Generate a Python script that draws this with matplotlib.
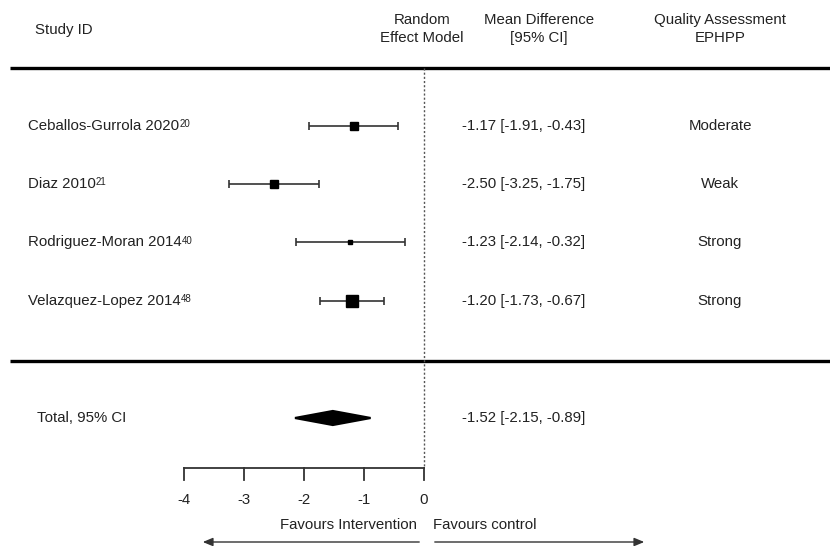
import numpy as np
import matplotlib
matplotlib.use("Agg")
import matplotlib.pyplot as plt
from matplotlib.patches import Polygon

plt.rcParams['font.family'] = ['Liberation Sans', 'DejaVu Sans']

# study data
studies = ["Ceballos-Gurrola 2020", "Diaz 2010", "Rodriguez-Moran 2014", "Velazquez-Lopez 2014"]
refs = ["20", "21", "40", "48"]
md = [-1.17, -2.50, -1.23, -1.20]
ci_lo = [-1.91, -3.25, -2.14, -1.73]
ci_hi = [-0.43, -1.75, -0.32, -0.67]
weights = [24, 27, 4.5, 45]          # relative box area (estimated)
quality = ["Moderate", "Weak", "Strong", "Strong"]

total_md = -1.52
total_lo = -2.15
total_hi = -0.89

ticks = [-4, -3, -2, -1, 0]

# figure is laid out in pixels: x = 424 + 60*value, y rows 58.2 px apart
W, H = 830, 546
X0, XS = 424, 60.0
Y0, YS = 126, 58.2


def xpx(p):
    return (p - X0) / XS


def ypx(p):
    return (p - Y0) / YS


fig = plt.figure(figsize=(W / 100, H / 100), dpi=100)
ax = fig.add_axes([0, 0, 1, 1])
ax.set_xlim(xpx(0), xpx(W))
ax.set_ylim(ypx(H), ypx(0))
ax.axis('off')

txt = '#222222'
fs = 10.8

# header
ax.text(xpx(35), ypx(30), "Study ID", fontsize=fs, color=txt, va='center', ha='left')
ax.text(xpx(422), ypx(29), "Random\nEffect Model", fontsize=fs, color=txt,
        va='center', ha='center', linespacing=1.45)
ax.text(xpx(539), ypx(29), "Mean Difference\n[95% CI]", fontsize=fs, color=txt,
        va='center', ha='center', linespacing=1.45)
ax.text(xpx(720), ypx(29), "Quality Assessment\nEPHPP", fontsize=fs, color=txt,
        va='center', ha='center', linespacing=1.45)

# thick separators
for yy in (68, 361):
    ax.plot([xpx(10), xpx(W)], [ypx(yy), ypx(yy)], color='black', lw=2.4,
            solid_capstyle='butt')

# line of no effect
ax.plot([0, 0], [ypx(68), ypx(468)], color='#555555', lw=1.0, ls=(0, (1.5, 1.5)))

rows = np.arange(len(studies))
box = [1.64 * np.sqrt(w) * 0.72 for w in weights]  # px -> pt

for i, name in enumerate(studies):
    lab = ax.text(xpx(28), rows[i], name, fontsize=fs, color=txt, va='center', ha='left')
    ax.annotate(refs[i], xy=(1.0, 0.98), xycoords=lab, fontsize=7, color=txt,
                va='top', ha='left')
    ax.errorbar(md[i], rows[i], xerr=[[md[i] - ci_lo[i]], [ci_hi[i] - md[i]]],
                fmt='none', ecolor='#333333', elinewidth=1.2, capsize=3.2, capthick=1.2)
    ax.plot(md[i], rows[i], marker='s', ms=box[i], color='black', mec='black')
    ax.text(xpx(462), rows[i], f"{md[i]:.2f} [{ci_lo[i]:.2f}, {ci_hi[i]:.2f}]",
            fontsize=fs, color=txt, va='center', ha='left')
    ax.text(xpx(720), rows[i], quality[i], fontsize=fs, color=txt, va='center', ha='center')

# pooled estimate
yt = ypx(418)
ax.text(xpx(37), yt, "Total, 95% CI", fontsize=fs, color=txt, va='center', ha='left')
hh = 7 / YS
ax.add_patch(Polygon([[total_lo, yt], [total_md, yt - hh], [total_hi, yt], [total_md, yt + hh]],
                     closed=True, facecolor='black', edgecolor='black', lw=1.6))
ax.text(xpx(462), yt, f"{total_md:.2f} [{total_lo:.2f}, {total_hi:.2f}]",
        fontsize=fs, color=txt, va='center', ha='left')

# x axis drawn by hand under the plot
ya = ypx(468)
ax.plot([ticks[0], ticks[-1]], [ya, ya], color='#333333', lw=1.3)
for t in ticks:
    ax.plot([t, t], [ya, ypx(480)], color='#333333', lw=1.3)
    ax.text(t, ypx(500), f"{t}", fontsize=fs, color=txt, va='center', ha='center')

ax.text(xpx(417), ypx(525), "Favours Intervention", fontsize=fs, color=txt,
        va='center', ha='right')
ax.text(xpx(433), ypx(525), "Favours control", fontsize=fs, color=txt,
        va='center', ha='left')

ya2 = ypx(542)
arrow = dict(arrowstyle='-|>,head_length=0.6,head_width=0.25', color='#333333', lw=1.0)
ax.annotate("", xy=(xpx(200), ya2), xytext=(xpx(422), ya2), arrowprops=arrow)
ax.annotate("", xy=(xpx(647), ya2), xytext=(xpx(432), ya2), arrowprops=arrow)

fig.savefig("out.png", dpi=100)
